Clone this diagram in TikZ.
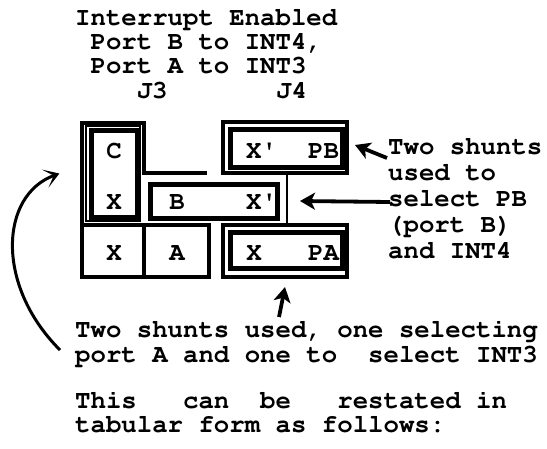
\documentclass[tikz,border=0pt]{standalone}
\usepackage[T1]{fontenc}
\usepackage{courier}
\usetikzlibrary{calc}
\usetikzlibrary{arrows.meta}

\begin{document}
\begin{tikzpicture}[x=1pt, y=-1pt,
  txt/.style={font=\ttfamily\bfseries\fontsize{25.7}{24.4}\selectfont, inner sep=0pt, anchor=base west},
  lab/.style={txt, anchor=base},
  shunt/.style={draw, line width=5pt, inner sep=0pt, outer sep=0pt},
  pin/.style={draw, line width=3.5pt, inner sep=0pt, outer sep=0pt},
  arr/.style={line width=3.8pt, -{Stealth[length=15pt,width=17pt,inset=4pt]}}]
\useasboundingbox (0,0) rectangle (547,448);

\node[txt] (ttl) at (75,25) {Interrupt Enabled};
\node[txt] (pbint) at (90.4,49) {Port B to INT4,};
\node[txt] (paint) at (90.4,73) {Port A to INT3};
\node[txt] (jthree) at (136.6,98) {J3};
\node[txt] (jfour) at (276,98) {J4};

\draw[pin, line width=4pt] (82,225) -- (82,123) -- (144,123) -- (144,173) -- (207,173);
\node[pin, minimum width=62pt, minimum height=52pt] (xcell) at (113,251) {};
\node[pin, minimum width=65pt, minimum height=52pt] (acell) at (176.5,251) {};
\node[draw, line width=1.2pt, minimum width=54pt, minimum height=95pt] (cxpin) at (113,173.5) {};
\node[shunt, minimum width=46pt, minimum height=87pt] (cxsh) at (114,173.5) {};
\node[shunt, minimum width=127pt, minimum height=34pt] (bsh) at (213.5,201) {};

\node[pin, line width=4pt, minimum width=124pt, minimum height=51pt] (pbout) at (285,147.5) {};
\node[shunt, minimum width=112pt, minimum height=38pt] (pbsh) at (286,148) {};
\draw[line width=2.5pt] (287,173) -- (287,225);
\node[pin, line width=4pt, minimum width=124pt, minimum height=52pt] (paout) at (285,251) {};
\node[shunt, minimum width=112pt, minimum height=36pt] (pash) at (286,250) {};

\node[lab] (c) at (114,158) {C};
\node[lab] (xc) at (114,209) {X};
\node[lab] (xa) at (114,260) {X};
\node[lab] (a) at (177,260) {A};
\node[lab] (b) at (177,209) {B};
\node[txt] (xpb) at (246,209) {X\textquotesingle};
\node[txt] (xpt) at (246,158) {X\textquotesingle};
\node[txt] (pb) at (308,158) {PB};
\node[lab] (xpa) at (254,260) {X};
\node[txt] (pa) at (308,260) {PA};

\node[txt, align=left, font=\ttfamily\bfseries\fontsize{25.7}{25.8}\selectfont] (note) at (388,258)
  {Two shunts\\used to\\select PB\\(port B)\\and INT4};
\node[txt, align=left, font=\ttfamily\bfseries\fontsize{25.7}{24.5}\selectfont] (low) at (75,362)
  {Two shunts used, one selecting\\port A and one to~ select INT3};
\node[txt, align=left, font=\ttfamily\bfseries\fontsize{25.7}{24}\selectfont] (restate) at (75,432)
  {This~~~can~~be~~~restated in\\tabular form as follows:};

\coordinate (pbtail) at (387,158);
\draw[arr] (pbtail) -- ([xshift=8pt,yshift=2.5pt]pbout.east);
\coordinate (xtail) at (390,202);
\draw[arr] (xtail) -- ([xshift=23pt]bsh.east);
\coordinate (uptail) at (279,317);
\draw[arr] (uptail) -- ([yshift=-10pt]paout.south);
\coordinate (bendtail) at (60,350);
\draw[line width=3pt, -{Stealth[length=15pt,width=19pt,inset=9pt]}] (bendtail) .. controls (-5,285) and (0,195) .. ([xshift=-26pt]cxpin.west);
\end{tikzpicture}
\end{document}
